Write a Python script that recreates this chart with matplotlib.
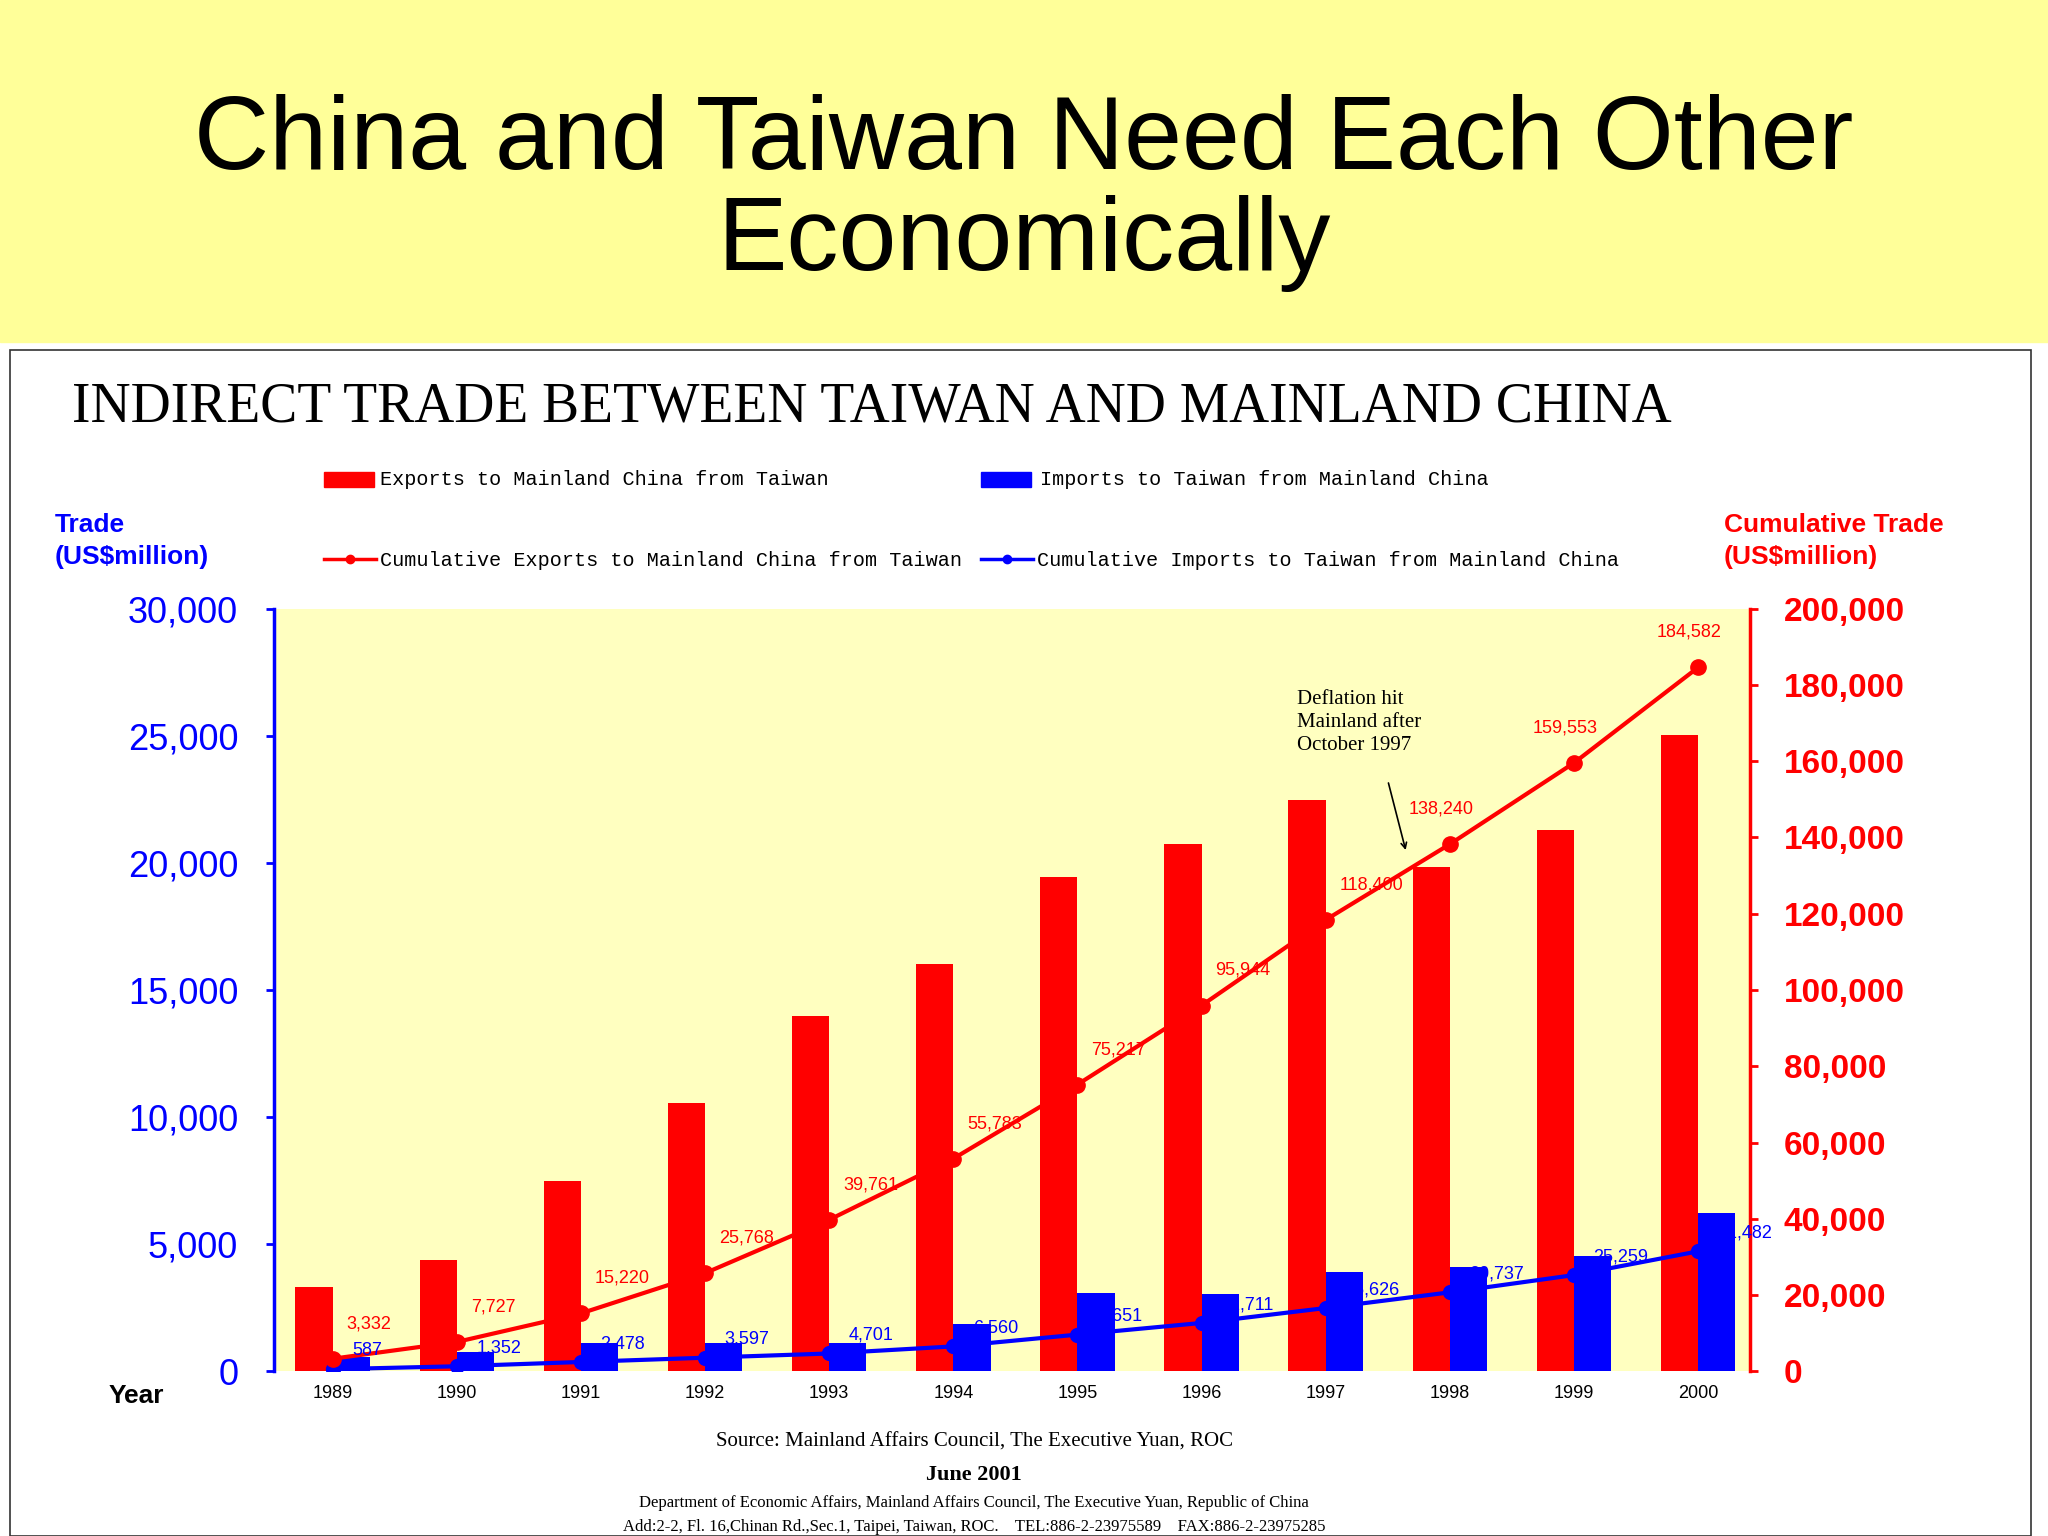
import matplotlib
matplotlib.use("Agg")
import matplotlib.pyplot as plt
from matplotlib.patches import Rectangle

years = ["1989","1990","1991","1992","1993","1994","1995","1996","1997","1998","1999","2000"]
exports = [3332,4395,7493,10548,13993,16022,19434,20727,22456,19840,21313,25029]
imports = [587,765,1126,1119,1104,1859,3091,3060,3915,4111,4522,6223]
cum_exports = [3332,7727,15220,25768,39761,55783,75217,95944,118400,138240,159553,184582]
cum_imports = [587,1352,2478,3597,4701,6560,9651,12711,16626,20737,25259,31482]

W, H = 1568, 1176
fig = plt.figure(figsize=(20.48, 15.36), dpi=100)
fig.patch.set_facecolor("white")
def fx(x): return x / W
def fy(y): return 1 - y / H

fig.patches.append(Rectangle((0, fy(262)), 1, 262 / H, transform=fig.transFigure, color="#FFFF99", zorder=0))
fig.patches.append(Rectangle((fx(8), 0), fx(1555) - fx(8), fy(268), transform=fig.transFigure,
                             fill=False, ec="#333333", lw=1.2, zorder=1))
fig.text(0.5, fy(148), "China and Taiwan Need Each Other\nEconomically", ha="center", va="center",
         fontsize=75, family="Liberation Sans", linespacing=1.05)
fig.text(fx(55), fy(312), "INDIRECT TRADE BETWEEN TAIWAN AND MAINLAND CHINA", ha="left", va="center",
         fontsize=40, family="Liberation Serif")

ax = fig.add_axes([fx(210), fy(1050), fx(1340) - fx(210), fy(466) - fy(1050)])
ax.set_facecolor("#FFFFC0")
x = list(range(len(years)))
bw = 0.3
ax.bar([i - 0.15 for i in x], exports, width=bw, color="#FF0000", zorder=2)
ax.bar([i + 0.15 for i in x], imports, width=bw, color="#0000FF", zorder=2)
ax.set_xlim(-0.47, 11.42)
ax.set_ylim(0, 30000)
ax.set_yticks(range(0, 30001, 5000))
ax.set_yticklabels([f"{v:,}" for v in range(0, 30001, 5000)], color="#0000FF", fontsize=26, family="Liberation Sans")
ax.set_xticks(x)
ax.set_xticklabels(years, fontsize=13, family="Liberation Sans")
ax.tick_params(axis="x", length=0, pad=10)
ax.tick_params(axis="y", colors="#0000FF", length=6, width=2, labelcolor="#0000FF", pad=20)
for s in ["top", "right", "bottom"]:
    ax.spines[s].set_visible(False)
ax.spines["left"].set_color("#0000FF")
ax.spines["left"].set_linewidth(2.5)

ax2 = ax.twinx()
ax2.set_ylim(0, 200000)
ax2.set_yticks(range(0, 200001, 20000))
ax2.set_yticklabels([f"{v:,}" for v in range(0, 200001, 20000)], color="#FF0000", fontsize=24,
                    fontweight="bold", family="Liberation Sans")
ax2.tick_params(axis="y", colors="#FF0000", length=6, width=2, labelcolor="#FF0000", pad=18)
for s in ["top", "left", "bottom"]:
    ax2.spines[s].set_visible(False)
ax2.spines["right"].set_color("#FF0000")
ax2.spines["right"].set_linewidth(2.5)

ax2.plot(x, cum_imports, color="#0000FF", lw=3, marker="o", ms=10, zorder=4)
for i, v in enumerate(cum_imports):
    ax2.annotate(f"{v:,}", (i, v), xytext=(14, 10), textcoords="offset points", ha="left",
                 color="#0000FF", fontsize=13, family="Liberation Sans", zorder=5)
ax2.plot(x, cum_exports, color="#FF0000", lw=3, marker="o", ms=11, zorder=4)
for i, v in enumerate(cum_exports):
    ax2.annotate(f"{v:,}", (i, v), xytext=(10 if i < 9 else -30, 22), textcoords="offset points",
                 ha="left", color="#FF0000", fontsize=13, family="Liberation Sans")

ax2.annotate("", xy=(8.65, 136000), xytext=(8.5, 155000),
             arrowprops=dict(arrowstyle="->", color="black", lw=1.2))
fig.text(fx(993), fy(553), "Deflation hit\nMainland after\nOctober 1997",
         ha="left", va="center", fontsize=15, family="Liberation Serif", linespacing=1.3)

fig.text(fx(42), fy(414), "Trade\n(US$million)", color="#0000FF", fontsize=19, fontweight="bold",
         family="Liberation Sans", va="center", linespacing=1.4)
fig.text(fx(1320), fy(414), "Cumulative Trade\n(US$million)", color="#FF0000", fontsize=19,
         fontweight="bold", family="Liberation Sans", va="center", linespacing=1.4)
fig.text(fx(83), fy(1069), "Year", fontsize=19, fontweight="bold", family="Liberation Sans", va="center")

# legend
lf = dict(fontsize=14.5, family="Liberation Mono", va="center")
fig.patches.append(Rectangle((fx(248), fy(373)), fx(38), 12 / H, transform=fig.transFigure, color="#FF0000"))
fig.text(fx(291), fy(367), "Exports to Mainland China from Taiwan", **lf)
fig.patches.append(Rectangle((fx(751), fy(373)), fx(38), 12 / H, transform=fig.transFigure, color="#0000FF"))
fig.text(fx(796), fy(367), "Imports to Taiwan from Mainland China", **lf)
fig.lines.append(plt.Line2D([fx(248), fx(288)], [fy(428), fy(428)], transform=fig.transFigure,
                            color="#FF0000", lw=2.5))
fig.lines.append(plt.Line2D([fx(268)], [fy(428)], transform=fig.transFigure, color="#FF0000", marker="o", ms=6))
fig.text(fx(291), fy(429), "Cumulative Exports to Mainland China from Taiwan", **lf)
fig.lines.append(plt.Line2D([fx(751), fx(791)], [fy(428), fy(428)], transform=fig.transFigure,
                            color="#0000FF", lw=2.5))
fig.lines.append(plt.Line2D([fx(771)], [fy(428)], transform=fig.transFigure, color="#0000FF", marker="o", ms=6))
fig.text(fx(794), fy(429), "Cumulative Imports to Taiwan from Mainland China", **lf)

fig.text(fx(746), fy(1104), "Source: Mainland Affairs Council, The Executive Yuan, ROC", ha="center",
         va="center", fontsize=15, family="Liberation Serif")
fig.text(fx(746), fy(1129), "June 2001", ha="center", va="center", fontsize=16, fontweight="bold",
         family="Liberation Serif")
fig.text(fx(746), fy(1151), "Department of Economic Affairs, Mainland Affairs Council, The Executive Yuan, Republic of China",
         ha="center", va="center", fontsize=12, family="Liberation Serif")
fig.text(fx(746), fy(1169), "Add:2-2, Fl. 16,Chinan Rd.,Sec.1, Taipei, Taiwan, ROC.    TEL:886-2-23975589    FAX:886-2-23975285",
         ha="center", va="center", fontsize=12, family="Liberation Serif")

fig.savefig("out.png", dpi=100)
